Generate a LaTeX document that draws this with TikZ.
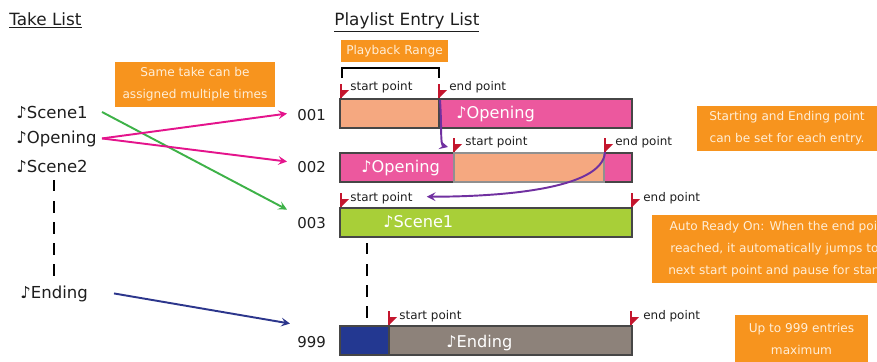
\documentclass[tikz,border=0pt]{standalone}
\usepackage{fontspec}
\setmainfont{DejaVu Sans}
\usetikzlibrary{arrows.meta,calc}
\definecolor{boxorange}{RGB}{247,148,30}
\definecolor{boxtext}{RGB}{255,238,215}
\definecolor{inkgray}{RGB}{30,30,30}
\definecolor{bargray}{RGB}{70,70,70}
\definecolor{peach}{RGB}{245,168,128}
\definecolor{pinkbar}{RGB}{236,88,158}
\definecolor{greenbar}{RGB}{168,207,56}
\definecolor{bluebar}{RGB}{35,56,145}
\definecolor{brownbar}{RGB}{141,130,122}
\definecolor{flagred}{RGB}{196,22,46}
\definecolor{jumppurple}{RGB}{112,48,160}
\definecolor{linkmagenta}{RGB}{228,20,140}
\definecolor{linkgreen}{RGB}{62,178,72}
\definecolor{linknavy}{RGB}{44,54,140}
\begin{document}
\begin{tikzpicture}[x=0.02cm,y=-0.02cm,
    title/.style={anchor=base west,inner sep=0pt,text=inkgray,font=\fontsize{9.6}{11}\selectfont},
    take/.style={anchor=base west,inner sep=0pt,text=inkgray,font=\fontsize{9.4}{11}\selectfont},
    entryno/.style={anchor=base west,inner sep=0pt,text=inkgray,font=\fontsize{8.5}{10}\selectfont},
    note/.style={fill=boxorange,text=boxtext,align=center,inner sep=0pt,font=\fontsize{6.9}{12.5}\selectfont},
    bar/.style={draw=bargray,line width=0.8pt,anchor=north west,minimum width=5.84cm,minimum height=0.58cm,inner sep=0pt,outer sep=0pt},
    part/.style={draw=bargray,line width=0.8pt},
    bartext/.style={anchor=base west,inner sep=0pt,text=white,font=\fontsize{9.2}{11}\selectfont},
    pointlabel/.style={anchor=base west,inner sep=0pt,text=inkgray,font=\fontsize{6.8}{8}\selectfont},
    takelink/.style={line width=1.1pt,-{Stealth[length=5pt,width=5pt,inset=2pt]}},
    jump/.style={jumppurple,line width=1.1pt,-{Stealth[length=5pt,width=5pt,inset=2pt]}},
    gap/.style={line width=1.2pt,dash pattern=on 6.5pt off 5.5pt},
    redflag/.pic={
        \fill[flagred] (-1,-14) rectangle (1,0);
        \fill[flagred] (-1,-8) -- (8,-8) -- (0,0) -- cycle;
    }]
    \useasboundingbox (0,0) rectangle (877,362);
    %% headings
    \node[title] (takelist) at (9,25) {\underline{Take List}};
    \node[title] (entrylist) at (334,25) {\underline{Playlist Entry List}};
    %% take list
    \node[take] (scene1) at (16,118) {♪Scene1};
    \node[take] (opening) at (16,143) {♪Opening};
    \node[take] (scene2) at (16,172) {♪Scene2};
    \node[take] (ending) at (20,298) {♪Ending};
    \draw[gap] (54,180) -- (54,277);
    %% entry numbers
    \node[entryno] (n001) at (297,120) {001};
    \node[entryno] (n002) at (297,172) {002};
    \node[entryno] (n003) at (297,228) {003};
    \node[entryno] (n999) at (297,347) {999};
    %% assignments
    \draw[takelink,linkgreen] ($(scene1.west)+(86,0)$) -- ($(n003.west)+(-10,-13)$);
    \draw[takelink,linkmagenta] ($(opening.west)+(86,0)$) -- ($(n001.west)+(-10,-1)$);
    \draw[takelink,linkmagenta] ($(opening.west)+(86,0)$) -- ($(n002.west)+(-10,-5)$);
    \draw[takelink,linknavy] ($(ending.west)+(94,0)$) -- ($(n999.west)+(-7,-18)$);
    \node[note,minimum width=3.2cm,minimum height=0.9cm] (sametake) at (195,84.5) {Same take can be\\assigned multiple times};
    %% entry bars
    \node[bar,fill=pinkbar] (bar1) at (340,99) {};
    \draw[part,fill=peach] (340,99) rectangle (439,128);
    \node[bar,fill=pinkbar] (bar2) at (340,153) {};
    \draw[part,draw=bargray!60,fill=peach] (454,153) rectangle (604,182);
    \node[bar,fill=greenbar] (bar3) at (340,208) {};
    \node[bar,fill=brownbar] (bar4) at (340,326) {};
    \draw[part,fill=bluebar] (340,326) rectangle (389,355);
    \node[bartext] (t1) at (456,118) {♪Opening};
    \node[bartext] (t2) at (361,172) {♪Opening};
    \node[bartext] (t3) at (383,227) {♪Scene1};
    \node[bartext] (t4) at (446,347) {♪Ending};
    \draw[gap] (367,243) -- (367,325);
    %% playback range
    \node[note,minimum width=2.14cm,minimum height=0.44cm] (range) at (394.5,51) {Playback Range};
    \draw[line width=1.2pt] (342,78) -- (342,68) -- (439,68) -- (439,78);
    %% start and end points
    \foreach \name/\x/\y in {m1s/341/98,m1e/439/98,m2s/454/152,m2e/605/152,m3s/341/207,m3e/632/207,m4s/389/325,m4e/631/325}{
        \coordinate (\name) at (\x,\y);
        \pic at (\name) {redflag};
    }
    \node[pointlabel] (sp1) at (350,90) {start point};
    \node[pointlabel] (ep1) at (449,90) {end point};
    \node[pointlabel] (sp2) at (465,145) {start point};
    \node[pointlabel] (ep2) at (615,145) {end point};
    \node[pointlabel] (sp3) at (350,201) {start point};
    \node[pointlabel] (ep3) at (643,201) {end point};
    \node[pointlabel] (sp4) at (399,319) {start point};
    \node[pointlabel] (ep4) at (643,319) {end point};
    %% jumps
    \draw[jump] ($(m1e)+(1,2)$) .. controls +(2,28) and +(-8,-2) .. ($(m2s)+(-6,-5)$);
    \draw[jump] (m2e) .. controls +(-2,38) and +(70,0) .. ($(sp3.east)+(14,-1)$);
    %% notes
    \node[note,minimum width=3.6cm,minimum height=0.9cm] (pointnote) at (787,128.5) {Starting and Ending point\\can be set for each entry.};
    \node[note,anchor=north west,minimum width=5.36cm,minimum height=1.36cm] (autonote) at (652,215) {Auto Ready On: When the end point is\\reached, it automatically jumps to the\\next start point and pause for standby.};
    \node[note,minimum width=2.66cm,minimum height=0.96cm] (maxnote) at (801.5,339) {Up to 999 entries\\maximum};
\end{tikzpicture}
\end{document}
